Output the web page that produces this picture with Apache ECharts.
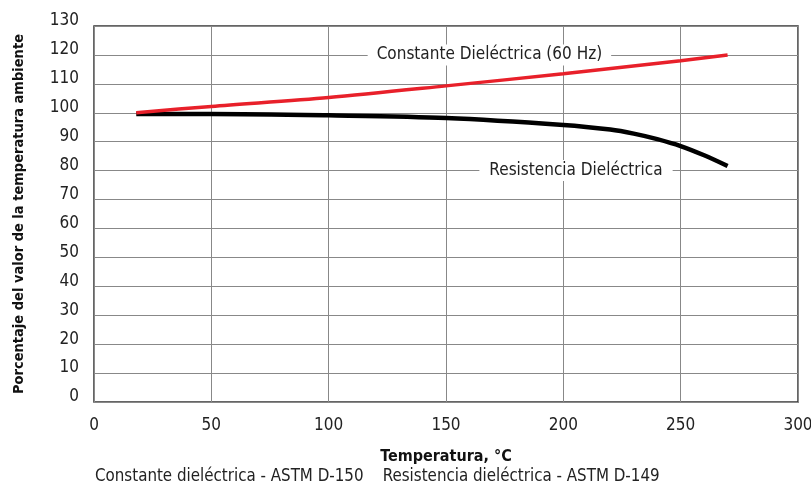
<!DOCTYPE html>
<html><head><meta charset="utf-8">
<script src="https://cdn.jsdelivr.net/npm/echarts@6/dist/echarts.min.js"></script>
<style>html,body{margin:0;padding:0;background:#fff}#c{width:811px;height:486px}</style>
</head><body><div id="c"></div>
<script>
var constanteX = [18, 50, 100, 150, 200, 250, 270];
var constanteY = [100, 102.2, 105.3, 109.3, 113.5, 118, 120];
var resistenciaX = [18, 50, 100, 150, 200, 220, 230, 240, 250, 260, 270];
var resistenciaY = [99.6, 99.6, 99.1, 98.2, 95.8, 94.2, 92.8, 90.9, 88.5, 85.3, 81.6];
var xTicks = [0, 50, 100, 150, 200, 250, 300];
var yTicks = [0, 10, 20, 30, 40, 50, 60, 70, 80, 90, 100, 110, 120, 130];
var labelConstante = {text: 'Constante Dieléctrica (60 Hz)', x: 168.5, y: 120};
var labelResistencia = {text: 'Resistencia Dieléctrica', x: 205.4, y: 80};
var xTitle = 'Temperatura, °C';
var yTitle = 'Porcentaje del valor de la temperatura ambiente';
var footnote = 'Constante dieléctrica - ASTM D-150    Resistencia dieléctrica - ASTM D-149';

var FONT = '"Liberation Sans Narrow", "DejaVu Sans Condensed", sans-serif';
function pairs(xs, ys){ return xs.map(function(x,i){ return [x, ys[i]]; }); }

var chart = echarts.init(document.getElementById('c'), null, {renderer: 'canvas'});
chart.setOption({
  animation: false,
  grid: {left: 94, right: 13, top: 26, bottom: 84, show: true, borderColor: '#333', borderWidth: 1.5, backgroundColor: 'transparent', containLabel: false, outerBoundsMode: 'none'},
  xAxis: {
    type: 'value', min: xTicks[0], max: xTicks[xTicks.length-1], interval: 50,
    axisLine: {show: false}, axisTick: {show: false},
    splitLine: {show: true, lineStyle: {color: '#888', width: 1}},
    axisLabel: {fontFamily: FONT, fontSize: 17, color: '#222', margin: 15},
    name: xTitle, nameLocation: 'middle', nameGap: 47,
    nameTextStyle: {fontFamily: FONT, fontSize: 16, fontWeight: 'bold', color: '#111'}
  },
  yAxis: {
    type: 'value', min: yTicks[0], max: yTicks[yTicks.length-1], interval: 10,
    axisLine: {show: false}, axisTick: {show: false},
    splitLine: {show: true, lineStyle: {color: '#888', width: 1}},
    axisLabel: {fontFamily: FONT, fontSize: 17, color: '#222', margin: 15, verticalAlign: 'bottom', lineHeight: 10},
    name: yTitle, nameLocation: 'middle', nameGap: 67, nameRotate: 90,
    nameTextStyle: {fontFamily: FONT, fontSize: 14.5, fontWeight: 'bold', color: '#111'}
  },
  graphic: [{
    type: 'text', left: 95, top: 468,
    style: {text: footnote, fontFamily: FONT, fontSize: 16.8, fill: '#222'}
  }],
  series: [{
    type: 'line', data: pairs(constanteX, constanteY), smooth: 0.3, symbol: 'none',
    lineStyle: {color: '#e8202a', width: 3.5}, z: 3,
    markPoint: {
      symbol: 'rect', symbolSize: 1, itemStyle: {color: 'transparent'},
      label: {show: true, position: 'inside', formatter: labelConstante.text, fontFamily: FONT, fontSize: 17, color: '#222', backgroundColor: '#fff', padding: [2, 9, 2, 9]},
      data: [{coord: [labelConstante.x, labelConstante.y]}]
    }
  }, {
    type: 'line', data: pairs(resistenciaX, resistenciaY), smooth: 0.3, symbol: 'none',
    lineStyle: {color: '#000', width: 4.5}, z: 2,
    markPoint: {
      symbol: 'rect', symbolSize: 1, itemStyle: {color: 'transparent'},
      label: {show: true, position: 'inside', formatter: labelResistencia.text, fontFamily: FONT, fontSize: 17, color: '#222', backgroundColor: '#fff', padding: [2, 10, 2, 10]},
      data: [{coord: [labelResistencia.x, labelResistencia.y]}]
    }
  }]
});
</script></body></html>
